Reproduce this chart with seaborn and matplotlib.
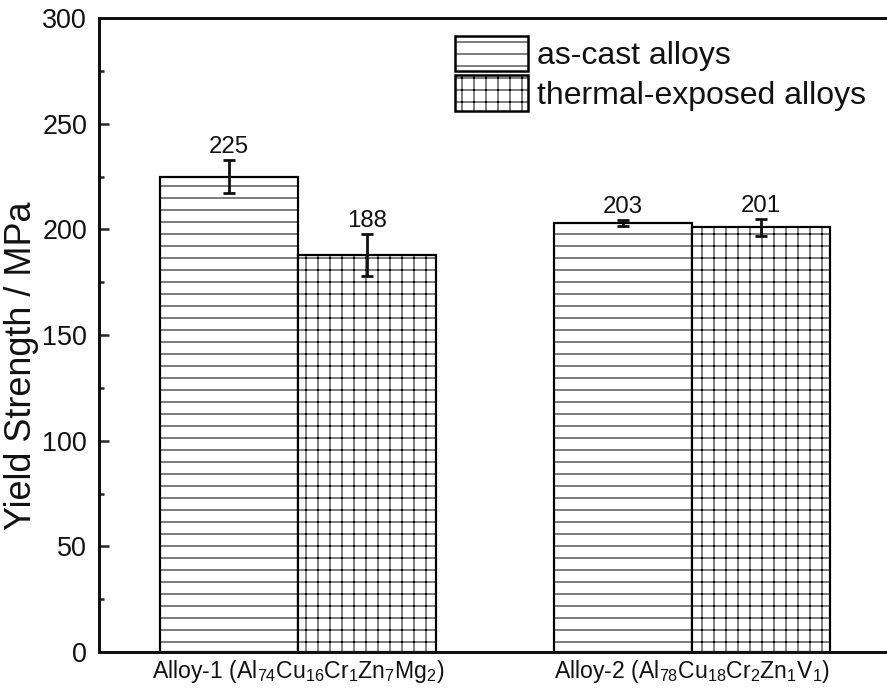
import matplotlib
matplotlib.use("Agg")
import matplotlib.pyplot as plt
import seaborn as sns
import pandas as pd
import numpy as np
from matplotlib.ticker import MultipleLocator
from matplotlib.patches import Patch

# ---- data ----
alloys = [r'Alloy-1 (Al$_{74}$Cu$_{16}$Cr$_{1}$Zn$_{7}$Mg$_{2}$)',
          r'Alloy-2 (Al$_{78}$Cu$_{18}$Cr$_{2}$Zn$_{1}$V$_{1}$)']
states = ['as-cast alloys', 'thermal-exposed alloys']
as_cast = [225, 203]
as_cast_err = [8, 1.5]
thermal = [188, 201]
thermal_err = [10, 4]
value_labels_cast = ['225', '203']
value_labels_thermal = ['188', '201']

df = pd.DataFrame({
    'alloy': alloys * 2,
    'state': [states[0]] * 2 + [states[1]] * 2,
    'ys': as_cast + thermal,
})
errs = as_cast_err + thermal_err
labels = value_labels_cast + value_labels_thermal

sns.set_style("white")
plt.rcParams['font.family'] = ['Liberation Sans', 'DejaVu Sans']
plt.rcParams['mathtext.default'] = 'regular'
plt.rcParams['hatch.linewidth'] = 1.0
plt.rcParams['hatch.color'] = '#333333'

DPI = 72
fig = plt.figure(figsize=(887 / DPI, 691 / DPI), dpi=DPI)
ax = fig.add_axes([99 / 887, 39 / 691, 1 - 99 / 887, (652 - 18) / 691])

sns.barplot(data=df, x='alloy', y='ys', hue='state', hue_order=states,
            order=alloys, errorbar=None, width=0.70, ax=ax,
            palette=['white', 'white'], edgecolor='black', linewidth=2.2,
            legend=False)

hatches = ['-', '+']
bars = [p for p in ax.patches if p.get_height() > 0]
# patches ordered by hue then category
for i, p in enumerate(bars):
    hue_idx = i // len(alloys)
    p.set_hatch(hatches[hue_idx])
    p.set_facecolor('white')
    p.set_edgecolor('black')

for i, p in enumerate(bars):
    xc = p.get_x() + p.get_width() / 2
    h = p.get_height()
    ax.errorbar(xc, h, yerr=errs[i], color='#111111', elinewidth=2.8,
                capsize=6, capthick=2.8, fmt='none', zorder=5)
    ax.annotate(labels[i], (xc, h + errs[i]), xytext=(0, 2),
                textcoords='offset points', ha='center', va='bottom',
                fontsize=24, color='#111111')

ax.set_ylim(0, 300)
ax.set_xlim(-0.505, 1.495)
ax.yaxis.set_major_locator(MultipleLocator(50))
ax.yaxis.set_minor_locator(MultipleLocator(25))
ax.tick_params(axis='y', which='major', direction='in', length=10, width=2.5,
               labelsize=27, left=True, pad=12, labelcolor='#111111')
ax.tick_params(axis='y', which='minor', direction='in', length=5, width=2.5,
               left=True)
ax.tick_params(axis='x', which='both', length=0, labelsize=23, pad=6,
               labelcolor='#111111')
ax.set_xlabel('')
ax.set_ylabel('Yield Strength / MPa', fontsize=36, color='#111111')
ax.yaxis.set_label_coords(-0.076, 0.452)

for s in ['left', 'bottom', 'top']:
    ax.spines[s].set_visible(True)
    ax.spines[s].set_linewidth(3)
    ax.spines[s].set_color('#111111')
ax.spines['right'].set_visible(False)

handles = [Patch(facecolor='white', edgecolor='black', hatch=h, linewidth=2.5)
           for h in hatches]
leg = ax.legend(handles, states, loc='upper left', bbox_to_anchor=(0.452, 0.972),
                frameon=False, fontsize=32, handlelength=2.28, handleheight=1.34,
                labelspacing=0.11, handletextpad=0.28, borderaxespad=0,
                borderpad=0)
for t in leg.get_texts():
    t.set_color('#111111')

fig.savefig('out.png', dpi=DPI)
